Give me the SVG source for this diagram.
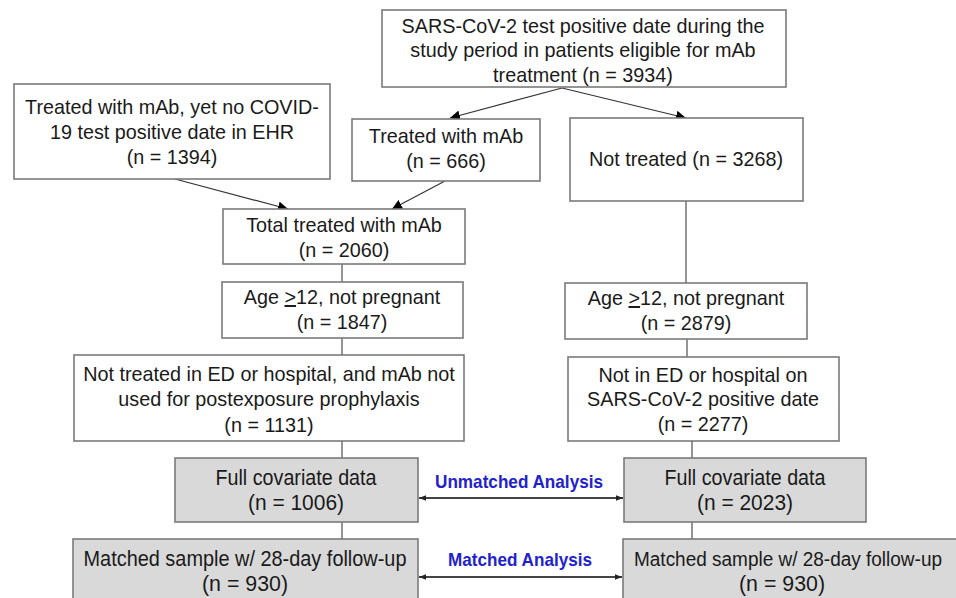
<svg xmlns="http://www.w3.org/2000/svg" width="956" height="598" viewBox="0 0 956 598">
<style>
.box{fill:#ffffff;stroke:#7a7a7a;stroke-width:1.6}
.gbox{fill:#d9d9d9;stroke:#7a7a7a;stroke-width:1.6}
.t{font-family:"Liberation Sans",Arial,sans-serif;font-size:19.8px;fill:#1a1a1a;text-anchor:middle}
.g{font-family:"Liberation Sans",Arial,sans-serif;font-size:22px;fill:#1a1a1a;text-anchor:middle}
.b{font-family:"Liberation Sans",Arial,sans-serif;font-size:19px;font-weight:bold;fill:#2222cc;text-anchor:middle}
.arr{stroke:#333;stroke-width:1.2;fill:none}
.v{stroke:#7a7a7a;stroke-width:1.6;fill:none}
.dbl{stroke:#444;stroke-width:1.8;fill:none}
</style>
<defs>
<marker id="ah" viewBox="0 0 10 10" refX="10" refY="5" markerWidth="10" markerHeight="10" markerUnits="userSpaceOnUse" orient="auto">
<path d="M0,0 L10,5 L0,10 z" fill="#000"/>
</marker>
<marker id="sh" viewBox="0 0 10 10" refX="10" refY="5" markerWidth="7" markerHeight="7" markerUnits="userSpaceOnUse" orient="auto-start-reverse">
<path d="M0,1 L10,5 L0,9 z" fill="#222"/>
</marker>
</defs>

<g id="connectors">
<line class="arr" x1="562" y1="88" x2="450" y2="118" marker-end="url(#ah)"/>
<line class="arr" x1="562" y1="88" x2="686" y2="118" marker-end="url(#ah)"/>
<line class="arr" x1="175" y1="179" x2="288" y2="209" marker-end="url(#ah)"/>
<line class="arr" x1="445" y1="181" x2="392" y2="209" marker-end="url(#ah)"/>
<line class="v" x1="342" y1="264" x2="342" y2="282"/>
<line class="v" x1="342" y1="338" x2="342" y2="355"/>
<line class="v" x1="342" y1="441" x2="342" y2="458"/>
<line class="v" x1="342" y1="522" x2="342" y2="539"/>
<line class="v" x1="686" y1="201" x2="686" y2="283"/>
<line class="v" x1="687" y1="339" x2="687" y2="357"/>
<line class="v" x1="692" y1="441" x2="692" y2="458"/>
<line class="v" x1="692" y1="522" x2="692" y2="539"/>
<line class="dbl" x1="419" y1="498" x2="623" y2="498" marker-start="url(#sh)" marker-end="url(#sh)"/>
<line class="dbl" x1="419" y1="577" x2="622" y2="577" marker-start="url(#sh)" marker-end="url(#sh)"/>
<text class="b" x="519" y="488" textLength="168" lengthAdjust="spacingAndGlyphs">Unmatched Analysis</text>
<text class="b" x="520" y="566" textLength="144" lengthAdjust="spacingAndGlyphs">Matched Analysis</text>
</g>

<g id="top">
<rect class="box" x="382" y="10" width="404" height="77"/>
<text class="t" x="583" y="33">SARS-CoV-2 test positive date during the</text>
<text class="t" x="583" y="57">study period in patients eligible for mAb</text>
<text class="t" x="583" y="82">treatment (n = 3934)</text>
</g>

<g id="treated_no_date">
<rect class="box" x="14" y="84" width="316" height="95"/>
<text class="t" x="172" y="114">Treated with mAb, yet no COVID-</text>
<text class="t" x="172" y="139">19 test positive date in EHR</text>
<text class="t" x="172" y="164">(n = 1394)</text>
</g>

<g id="treated">
<rect class="box" x="352" y="119" width="188" height="62"/>
<text class="t" x="446" y="143">Treated with mAb</text>
<text class="t" x="446" y="168">(n = 666)</text>
</g>

<g id="not_treated">
<rect class="box" x="570" y="118" width="233" height="83"/>
<text class="t" x="686" y="166">Not treated (n = 3268)</text>
</g>

<g id="total_treated">
<rect class="box" x="223" y="209" width="242" height="55"/>
<text class="t" x="344" y="232">Total treated with mAb</text>
<text class="t" x="344" y="257">(n = 2060)</text>
</g>

<g id="age_left">
<rect class="box" x="222" y="282" width="241" height="56"/>
<text class="t" x="342" y="304">Age <tspan text-decoration="underline">&gt;</tspan>12, not pregnant</text>
<text class="t" x="342" y="329">(n = 1847)</text>
</g>

<g id="not_ed_left">
<rect class="box" x="74" y="355" width="390" height="86"/>
<text class="t" x="269" y="381">Not treated in ED or hospital, and mAb not</text>
<text class="t" x="269" y="406">used for postexposure prophylaxis</text>
<text class="t" x="269" y="432">(n = 1131)</text>
</g>

<g id="age_right">
<rect class="box" x="565" y="283" width="242" height="56"/>
<text class="t" x="686" y="305">Age <tspan text-decoration="underline">&gt;</tspan>12, not pregnant</text>
<text class="t" x="686" y="330">(n = 2879)</text>
</g>

<g id="not_ed_right">
<rect class="box" x="568" y="357" width="271" height="84"/>
<text class="t" x="703" y="382">Not in ED or hospital on</text>
<text class="t" x="703" y="406">SARS-CoV-2 positive date</text>
<text class="t" x="703" y="431">(n = 2277)</text>
</g>

<g id="full_left">
<rect class="gbox" x="175" y="458" width="243" height="64"/>
<text class="g" x="296" y="485" textLength="161" lengthAdjust="spacingAndGlyphs">Full covariate data</text>
<text class="g" x="296" y="510" textLength="96" lengthAdjust="spacingAndGlyphs">(n = 1006)</text>
</g>

<g id="full_right">
<rect class="gbox" x="624" y="458" width="242" height="64"/>
<text class="g" x="745" y="485" textLength="161" lengthAdjust="spacingAndGlyphs">Full covariate data</text>
<text class="g" x="745" y="510" textLength="96" lengthAdjust="spacingAndGlyphs">(n = 2023)</text>
</g>

<g id="matched_left">
<rect class="gbox" x="73" y="539" width="345" height="70"/>
<text class="g" x="245" y="566" textLength="323" lengthAdjust="spacingAndGlyphs">Matched sample w/ 28-day follow-up</text>
<text class="g" x="245" y="591" textLength="86" lengthAdjust="spacingAndGlyphs">(n = 930)</text>
</g>

<g id="matched_right">
<rect class="gbox" x="623" y="539" width="345" height="70"/>
<text class="g" x="788" y="566" style="font-size:19.5px" textLength="308" lengthAdjust="spacingAndGlyphs">Matched sample w/ 28-day follow-up</text>
<text class="g" x="782" y="591" textLength="86" lengthAdjust="spacingAndGlyphs">(n = 930)</text>
</g>
</svg>
